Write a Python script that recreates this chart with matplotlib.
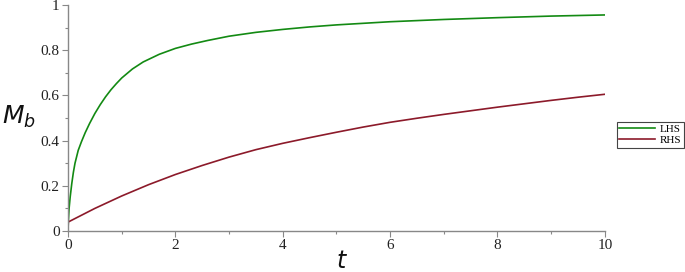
import matplotlib.pyplot as plt
from matplotlib.ticker import MultipleLocator

# values
t_lhs = [0, 0.005, 0.02, 0.04, 0.07, 0.1, 0.13, 0.19, 0.25, 0.32, 0.4, 0.5,
         0.6, 0.7, 0.8, 0.9, 1.0, 1.2, 1.4, 1.7, 2.0, 2.3, 2.6, 3.0, 3.5,
         4.0, 4.5, 5.0, 6.0, 7.0, 8.0, 9.0, 10.0]
m_lhs = [0, 0.04, 0.1, 0.15, 0.21, 0.26, 0.30, 0.357, 0.395, 0.435, 0.475,
         0.52, 0.559, 0.594, 0.625, 0.652, 0.677, 0.717, 0.748, 0.782, 0.808,
         0.827, 0.843, 0.862, 0.879, 0.892, 0.903, 0.912, 0.926, 0.936, 0.944,
         0.951, 0.956]

t_rhs = [0, 0.005, 0.5, 1.0, 1.5, 2.0, 2.5, 3.0, 3.5, 4.0, 4.5, 5.0, 5.5,
         6.0, 6.5, 7.0, 7.5, 8.0, 8.5, 9.0, 9.5, 10.0]
m_rhs = [0, 0.04, 0.1, 0.155, 0.205, 0.25, 0.29, 0.327, 0.36, 0.388, 0.413,
         0.437, 0.46, 0.481, 0.499, 0.516, 0.532, 0.548, 0.563, 0.578, 0.592,
         0.605]

green = '#138a13'
red = '#8c1a2a'

fig = plt.figure(figsize=(6.85, 2.72), dpi=100)
ax = fig.add_axes([0.0993, 0.1507, 0.7837, 0.8309])

ax.plot(t_lhs, m_lhs, color=green, lw=1.2, label='LHS')
ax.plot(t_rhs, m_rhs, color=red, lw=1.2, label='RHS')

ax.set_xlim(0, 10)
ax.set_ylim(0, 1)
ax.xaxis.set_minor_locator(MultipleLocator(1))
ax.yaxis.set_minor_locator(MultipleLocator(0.1))
ax.set_xticks([0, 2, 4, 6, 8, 10], ['0', '2', '4', '6', '8', '10'])
ax.set_yticks([0, 0.2, 0.4, 0.6, 0.8, 1.0], ['0', '0.2', '0.4', '0.6', '0.8', '1'])

for s in ['top', 'right']:
    ax.spines[s].set_visible(False)
for s in ['left', 'bottom']:
    ax.spines[s].set_color('#888888')
    ax.spines[s].set_linewidth(1.0)

ax.tick_params(which='major', direction='out', length=4, width=0.8,
               color='#888888', labelsize=11, pad=2)
ax.tick_params(which='minor', direction='out', length=2, width=0.8, color='#888888')
for lab in ax.get_xticklabels() + ax.get_yticklabels():
    lab.set_family('Liberation Serif')
    lab.set_color('#222222')

fig.text(0.003, 0.545, '$M_b$', fontsize=18, color='#111111')
fig.text(0.49, 0.015, '$t$', fontsize=17, color='#111111')

leg = fig.legend(loc='center left', bbox_to_anchor=(0.9, 0.505),
                 prop={'family': 'Liberation Serif', 'size': 8},
                 handlelength=3.2, handletextpad=0.4, borderpad=0.25,
                 labelspacing=0.1, borderaxespad=0, fancybox=False,
                 framealpha=1)
leg.get_frame().set_edgecolor('#444444')
leg.get_frame().set_linewidth(0.8)

fig.savefig('out.png', dpi=100)
